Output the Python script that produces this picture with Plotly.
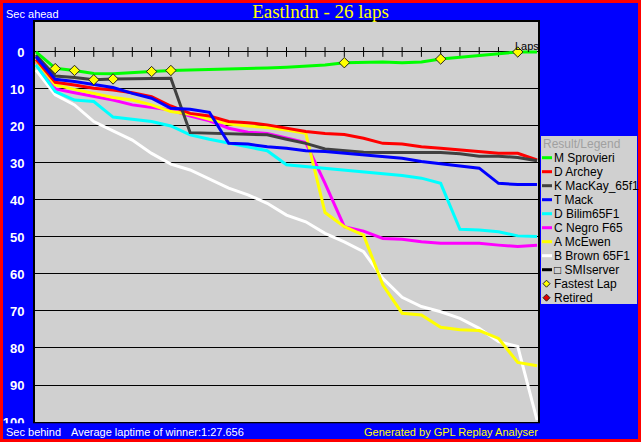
import plotly.graph_objects as go

# window / plot area in pixels
W, H = 641, 442
L, R, T, B = 35, 538, 22, 422

laps = list(range(27))

drivers = ["M Sprovieri", "D Archey", "K MacKay_65f1", "T Mack", "D Bilim65F1",
           "C Negro F65", "A McEwen", "B Brown 65F1"]
colors = ["#00ff00", "#ff0000", "#404040", "#0000ff", "#00ffff",
          "#ff00ff", "#ffff00", "#ffffff"]

# seconds behind the winner's average pace, lap 0..26
sprovieri = [0.0, 4.4, 5.0, 5.8, 5.9, 5.7, 5.3, 5.0, 4.9, 4.7, 4.7, 4.5, 4.3, 4.1,
             3.8, 3.5, 2.9, 2.7, 2.7, 2.9, 2.7, 1.9, 1.4, 1.0, 0.5, 0.0, 0.0]
archey = [2.0, 8.2, 8.9, 9.8, 10.3, 11.0, 12.1, 14.6, 16.6, 17.3, 18.8, 19.1, 19.7, 20.5,
          21.5, 22.0, 22.3, 23.3, 24.7, 24.9, 25.6, 26.0, 26.5, 27.1, 27.4, 27.4, 29.2]
mackay = [0.8, 6.5, 6.9, 7.5, 7.3, 7.3, 7.3, 7.1, 21.8, 22.0, 22.0, 22.3, 22.4, 23.6,
          24.7, 26.2, 26.7, 27.1, 27.2, 27.1, 27.2, 27.2, 27.5, 28.2, 28.2, 28.5, 29.4]
mack = [1.3, 7.4, 8.0, 8.7, 9.6, 11.2, 12.5, 15.2, 15.5, 16.3, 24.7, 24.9, 25.6, 26.0,
        26.7, 26.9, 27.4, 27.8, 28.3, 28.7, 29.6, 30.1, 30.8, 31.4, 35.5, 35.8, 35.8]
bilim = [3.5, 10.7, 13.0, 13.4, 17.6, 18.1, 18.8, 20.0, 22.4, 23.6, 24.7, 25.6, 26.7, 30.5,
         31.0, 31.4, 31.9, 32.3, 32.8, 33.4, 34.1, 35.5, 47.9, 48.1, 48.6, 49.7, 49.9]
negro = [2.6, 10.0, 11.0, 11.9, 13.0, 14.3, 15.1, 15.7, 17.3, 18.6, 20.6, 21.7, 22.0, 23.3,
         24.5, 35.5, 47.2, 48.4, 50.4, 50.6, 51.3, 51.7, 51.7, 51.7, 52.2, 52.6, 52.2]
mcewen = [2.3, 8.9, 10.1, 11.2, 12.3, 13.0, 14.3, 16.1, 16.8, 18.2, 19.5, 20.0, 20.4, 21.1,
          22.0, 43.4, 47.2, 49.5, 63.0, 70.6, 71.1, 74.4, 75.1, 75.3, 77.4, 83.9, 84.8]
brown = [4.9, 11.6, 14.3, 18.8, 21.3, 23.8, 27.4, 30.3, 31.9, 34.3, 36.8, 38.6, 40.9, 44.1,
         45.9, 49.0, 51.3, 54.0, 61.2, 66.3, 68.8, 70.2, 72.0, 74.7, 78.3, 79.6, 99.5]

series = [sprovieri, archey, mackay, mack, bilim, negro, mcewen, brown]
draw_order = [7, 5, 6, 4, 1, 2, 3, 0]

# fastest lap markers
fl_laps = [1, 2, 3, 4, 6, 7, 16, 21, 25]
fl_secs = [4.5, 5.0, 7.5, 7.3, 5.3, 5.0, 2.9, 1.9, 0.0]

y_ticks = list(range(0, 101, 10))


def px(x):
    return (x - L) / (R - L)


def py(y):
    return (B - y) / (B - T)


fig = go.Figure()

# lap ticks on the zero line
fig.add_trace(go.Scatter(x=laps[1:26], y=[0] * 25, mode="markers",
                         marker=dict(symbol="line-ns", size=7,
                                     line=dict(color="black", width=1)),
                         hoverinfo="skip"))

for i in draw_order:
    fig.add_trace(go.Scatter(x=laps, y=series[i], mode="lines", name=drivers[i],
                             line=dict(color=colors[i], width=3)))

fig.add_trace(go.Scatter(x=fl_laps, y=fl_secs, mode="markers", name="Fastest Lap",
                         marker=dict(symbol="diamond", size=8, color="#ffff00",
                                     line=dict(color="#202020", width=1))))

shapes = []
annotations = []

# legend box
shapes.append(dict(type="rect", xref="paper", yref="paper", layer="above",
                   x0=px(541), x1=px(637), y0=py(304), y1=py(136),
                   fillcolor="#d0d0d0", line=dict(width=0)))
annotations.append(dict(text="Result/Legend", x=px(541), y=py(144), xref="paper", yref="paper",
                        xanchor="left", yanchor="middle", showarrow=False,
                        font=dict(family="Liberation Sans", size=12, color="#a0a0a0")))

leg_names = drivers + ["\u25a1 SMIserver"]
leg_colors = colors + ["#000000"]
for k, (name, c) in enumerate(zip(leg_names, leg_colors)):
    yy = 157.7 + 14 * k
    shapes.append(dict(type="line", xref="paper", yref="paper", layer="above",
                       x0=px(542), x1=px(552), y0=py(yy), y1=py(yy),
                       line=dict(color=c, width=3)))
    annotations.append(dict(text=name, x=px(552), y=py(yy), xref="paper", yref="paper",
                            xanchor="left", yanchor="middle", showarrow=False,
                            font=dict(family="Liberation Sans", size=12, color="black")))

for k, (name, c) in enumerate([("Fastest Lap", "#ffff00"), ("Retired", "#e00000")]):
    yy = 157.7 + 14 * (len(leg_names) + k)
    cx = 546.5
    path = "M {},{} L {},{} L {},{} L {},{} Z".format(
        px(cx), py(yy - 3.5), px(cx + 3.5), py(yy), px(cx), py(yy + 3.5), px(cx - 3.5), py(yy))
    shapes.append(dict(type="path", xref="paper", yref="paper", layer="above", path=path,
                       fillcolor=c, line=dict(color="#202020", width=1)))
    annotations.append(dict(text=name, x=px(552), y=py(yy), xref="paper", yref="paper",
                            xanchor="left", yanchor="middle", showarrow=False,
                            font=dict(family="Liberation Sans", size=12, color="black")))

# bottom status strip (hides the lower half of the "100" label, as in the original)
shapes.append(dict(type="rect", xref="paper", yref="paper", layer="above",
                   x0=px(2), x1=px(W - 2), y0=py(440), y1=py(423.2),
                   fillcolor="#0000ff", line=dict(width=0)))

# outer red frame
shapes.append(dict(type="rect", xref="paper", yref="paper", layer="above",
                   x0=px(1.5), x1=px(W - 1.5), y0=py(H - 1.5), y1=py(1.5),
                   line=dict(color="#ff0000", width=3)))

small = dict(family="Liberation Sans", size=11, color="white")
annotations += [
    dict(text="Sec ahead", x=px(4), y=py(14), xanchor="left"),
    dict(text="Sec behind", x=px(4), y=py(432), xanchor="left"),
    dict(text="Average laptime of winner:1:27.656", x=px(69), y=py(432), xanchor="left"),
    dict(text="Generated by GPL Replay Analyser", x=px(540), y=py(432), xanchor="right",
         font=dict(family="Liberation Sans", size=11, color="#ffff00")),
    dict(text="Laps", x=px(527), y=py(46), xanchor="center",
         font=dict(family="Liberation Sans", size=11, color="black")),
]
for a in annotations[-5:]:
    a.setdefault("font", small)
    a.update(xref="paper", yref="paper", yanchor="middle", showarrow=False)

fig.update_layout(
    width=W, height=H,
    margin=dict(l=L, r=W - R, t=T, b=H - B, pad=0, autoexpand=False),
    paper_bgcolor="#0000ff",
    plot_bgcolor="#d0d0d0",
    showlegend=False,
    title=dict(text="Eastlndn - 26 laps", x=0.5, xanchor="center", xref="container",
               y=1 - 11 / H, yanchor="middle", yref="container",
               font=dict(family="Liberation Serif", size=19, color="#ffff00")),
    shapes=shapes,
    annotations=annotations,
)

fig.update_xaxes(range=[-0.05, 26.05], showgrid=False, zeroline=False, automargin=False,
                 showticklabels=False, ticks="", showline=True, mirror=True,
                 linecolor="black", linewidth=2)
fig.update_yaxes(range=[100, -8.1], tickvals=y_ticks, ticktext=[str(v) for v in y_ticks],
                 showgrid=True, gridcolor="black", gridwidth=1, automargin=False,
                 zeroline=True, zerolinecolor="black", zerolinewidth=1,
                 ticks="", ticklabelstandoff=6, showline=True, mirror=True,
                 linecolor="black", linewidth=2,
                 tickfont=dict(family="Liberation Sans", size=13, color="white", weight="bold"))

fig.write_html("out.html", config={"displayModeBar": False},
               post_script="document.body.style.margin='0px';")
